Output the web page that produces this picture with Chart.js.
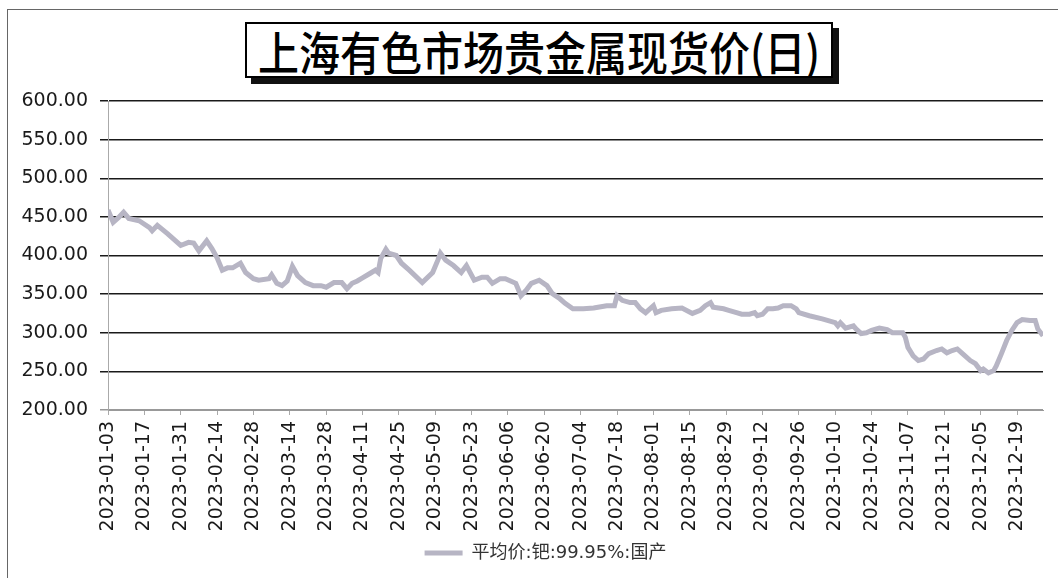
<!DOCTYPE html>
<html>
<head>
<meta charset="utf-8">
<script src="https://cdn.jsdelivr.net/npm/chart.js@4"></script>
<style>
  body{margin:0;background:#fff;width:1058px;height:578px;overflow:hidden;position:relative;}
  #frame{position:absolute;left:7px;top:9px;width:1060px;height:580px;border-left:1px solid #666;border-top:1px solid #666;}
  #title{position:absolute;left:245px;top:22px;width:584px;height:52px;border:2px solid #000;box-shadow:6px 6px 0 #111;background:#fff;
    font-family:"Noto Sans CJK SC";font-size:41px;line-height:52px;text-align:center;color:#000;font-weight:500;white-space:nowrap;overflow:hidden;}
  #title span{display:inline-block;transform:scaleY(1.12);}
  #wrap{position:absolute;left:0;top:0;width:1058px;height:578px;}
</style>
</head>
<body>
<div id="frame"></div>
<div id="title"><span>上海有色市场贵金属现货价(日)</span></div>
<div id="wrap"><canvas id="c"></canvas></div>
<script>
// 平均价:钯:99.95%:国产 (元/克)
const dates = [
  '2023-01-03','2023-01-05','2023-01-07','2023-01-09','2023-01-11','2023-01-15','2023-01-19','2023-01-20','2023-01-22','2023-01-26',
  '2023-01-31','2023-02-03','2023-02-05','2023-02-07','2023-02-10','2023-02-12','2023-02-14','2023-02-16','2023-02-18','2023-02-20',
  '2023-02-23','2023-02-25','2023-02-28','2023-03-02','2023-03-06','2023-03-07','2023-03-09','2023-03-11','2023-03-13','2023-03-15',
  '2023-03-17','2023-03-20','2023-03-23','2023-03-26','2023-03-28','2023-03-31','2023-04-03','2023-04-05','2023-04-07','2023-04-09',
  '2023-04-11','2023-04-14','2023-04-16','2023-04-17','2023-04-18','2023-04-20','2023-04-21','2023-04-24','2023-04-26','2023-04-29',
  '2023-05-04','2023-05-08','2023-05-10','2023-05-11','2023-05-13','2023-05-16','2023-05-19','2023-05-21','2023-05-24','2023-05-27',
  '2023-05-29','2023-05-31','2023-06-03','2023-06-05','2023-06-09','2023-06-11','2023-06-13','2023-06-15','2023-06-18','2023-06-21',
  '2023-06-23','2023-06-26','2023-06-28','2023-07-01','2023-07-05','2023-07-09','2023-07-14','2023-07-17','2023-07-18','2023-07-20',
  '2023-07-23','2023-07-25','2023-07-27','2023-07-29','2023-07-30','2023-08-01','2023-08-02','2023-08-04','2023-08-08','2023-08-12',
  '2023-08-16','2023-08-19','2023-08-21','2023-08-23','2023-08-24','2023-08-28','2023-08-30','2023-09-02','2023-09-04','2023-09-07',
  '2023-09-09','2023-09-10','2023-09-12','2023-09-14','2023-09-16','2023-09-18','2023-09-20','2023-09-23','2023-09-25','2023-09-26',
  '2023-09-30','2023-10-05','2023-10-10','2023-10-11','2023-10-12','2023-10-14','2023-10-17','2023-10-18','2023-10-20','2023-10-22',
  '2023-10-24','2023-10-27','2023-10-30','2023-11-01','2023-11-05','2023-11-06','2023-11-07','2023-11-09','2023-11-11','2023-11-13',
  '2023-11-15','2023-11-18','2023-11-20','2023-11-22','2023-11-24','2023-11-26','2023-11-28','2023-12-01','2023-12-03','2023-12-05',
  '2023-12-06','2023-12-08','2023-12-10','2023-12-11','2023-12-13','2023-12-15','2023-12-17','2023-12-19','2023-12-21','2023-12-24',
  '2023-12-26','2023-12-27','2023-12-29'
];
const prices = [
  459,443,449,456,448,445,436,432,439,428,
  413,417,416,406,419,409,397,381,384,384,
  390,378,370,368,370,375,364,361,367,386,
  374,365,361,361,359,365,365,357,364,367,
  371,377,381,378,396,408,403,400,390,381,
  365,378,394,403,394,387,378,387,368,372,
  372,364,370,370,364,348,355,364,368,361,
  351,344,338,331,331,332,335,335,348,342,
  339,339,331,326,329,335,326,329,331,332,
  325,329,335,339,333,331,329,326,324,324,
  326,322,324,331,331,332,335,335,331,326,
  322,318,313,309,313,306,309,305,299,300,
  303,306,304,300,300,294,281,270,264,266,
  273,277,279,274,277,279,273,264,260,251,
  253,248,251,257,273,290,303,313,317,316,
  316,305,296
];
const seriesName = '平均价:钯:99.95%:国产';
const yTicks = [200,250,300,350,400,450,500,550,600];
const tickStart = '2023-01-03', tickStepDays = 14, lastDate = '2023-12-29';

const dayMs = 86400000;
const toUtc = s => { const [y,m,d] = s.split('-').map(Number); return Date.UTC(y,m-1,d); };
const dayOf = s => Math.round((toUtc(s) - toUtc(tickStart)) / dayMs);
const fmt = n => new Date(toUtc(tickStart) + n*dayMs).toISOString().slice(0,10);

const points = dates.map((d,i)=>({x:dayOf(d), y:prices[i]}));
const tickFont = {family:'DejaVu Sans', size:19};

// legend sits a bit right of centre in the original
const nudgeLegend = {id:'nudgeLegend', afterLayout(chart){ const l = chart.legend; if(l){ l.left += 24; l.right += 24; } }};

new Chart(document.getElementById('c'),{
  type:'line',
  data:{datasets:[{
    label:seriesName, data:points,
    borderColor:'#b7b5c4', backgroundColor:'#b7b5c4',
    borderWidth:5, pointRadius:0, tension:0
  }]},
  options:{
    responsive:true, maintainAspectRatio:false, animation:false,
    layout:{padding:{top:101,left:0,right:15,bottom:6}},
    plugins:{
      tooltip:{enabled:false},
      legend:{position:'bottom',
        labels:{usePointStyle:true, pointStyle:'line', pointStyleWidth:38, color:'#333',
          font:{family:'DejaVu Sans, Noto Sans CJK SC', size:18}, padding:8}}
    },
    scales:{
      x:{type:'linear', min:0, max:dayOf(lastDate),
        afterFit(s){ s.height = 126; },
        afterBuildTicks(s){ s.ticks = s.ticks.filter(t=>t.value % tickStepDays === 0); },
        ticks:{stepSize:tickStepDays, autoSkip:false, minRotation:90, maxRotation:90, padding:6,
          color:'#1a1a1a', font:tickFont, callback:v=>fmt(v)},
        grid:{drawOnChartArea:false, drawTicks:true, tickLength:5, color:'#aaa'},
        border:{color:'#999', width:1}
      },
      y:{min:200, max:600,
        afterFit(s){ s.width = 108; },
        afterBuildTicks(s){ s.ticks = yTicks.map(v=>({value:v})); },
        ticks:{padding:12, color:'#1a1a1a', font:tickFont, callback:v=>v.toFixed(2)},
        grid:{color:c=>c.tick && c.tick.value===200 ? '#999' : '#1a1a1a', lineWidth:1.5, tickLength:8},
        border:{color:'#aaa', width:1}
      }
    }
  },
  plugins:[nudgeLegend]
});
</script>
</body>
</html>
